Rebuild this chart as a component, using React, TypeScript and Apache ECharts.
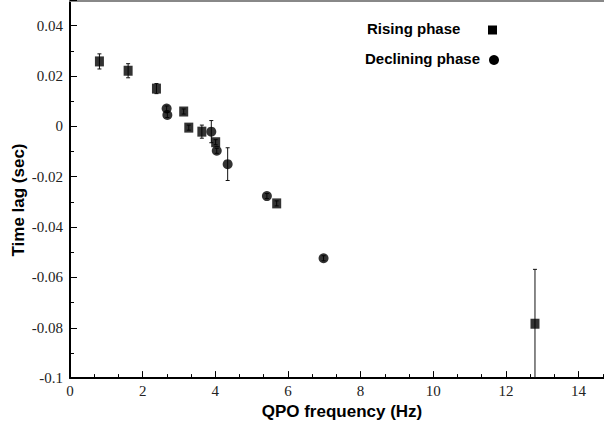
import React, { useEffect, useRef } from "react";
import * as echarts from "echarts";

// Rising phase (squares): QPO frequency (Hz), time lag (s), error (s)
const risingX = [0.81, 1.6, 2.38, 3.13, 3.27, 3.63, 4.01, 5.69, 12.8];
const risingY = [0.0258, 0.0221, 0.015, 0.0059, -0.0005, -0.0021, -0.0063, -0.0306, -0.0784];
const risingErr = [0.003, 0.0028, 0.002, 0.001, 0.001, 0.0026, 0.001, 0.001, 0.0216];

// Declining phase (circles)
const declX = [2.66, 2.68, 3.89, 4.04, 4.34, 5.42, 6.98];
const declY = [0.0071, 0.0045, -0.0021, -0.0097, -0.015, -0.0277, -0.0524];
const declErr = [0.001, 0.001, 0.0044, 0.001, 0.0065, 0.001, 0.001];

const xTitle = "QPO frequency (Hz)";
const yTitle = "Time lag (sec)";
const legendNames = ["Rising phase", "Declining phase"];

const boldFont = "'Liberation Sans', Arial, sans-serif";
const serifFont = "'Liberation Serif', 'Times New Roman', serif";

function errRender(params: any, api: any) {
  const x = api.value(0);
  const y = api.value(1);
  const e = api.value(2);
  const top = api.coord([x, y + e]);
  const bot = api.coord([x, y - e]);
  const cap = 2;
  const style = { stroke: "#111", lineWidth: 1 };
  return {
    type: "group",
    children: [
      { type: "line", shape: { x1: top[0], y1: top[1], x2: bot[0], y2: bot[1] }, style },
      { type: "line", shape: { x1: top[0] - cap, y1: top[1], x2: top[0] + cap, y2: top[1] }, style },
      { type: "line", shape: { x1: bot[0] - cap, y1: bot[1], x2: bot[0] + cap, y2: bot[1] }, style },
    ],
  };
}

export default function App() {
  const ref = useRef<HTMLDivElement>(null);
  useEffect(() => {
    if (!ref.current) return;
    const chart = echarts.init(ref.current, undefined, { renderer: "svg" });
    const rising = risingX.map((x, i) => [x, risingY[i], risingErr[i]]);
    const decl = declX.map((x, i) => [x, declY[i], declErr[i]]);
    chart.setOption({
      animation: false,
      backgroundColor: "#fff",
      grid: { left: 70, right: 0, top: 0.5, bottom: 42 },
      xAxis: [
        {
          type: "value",
          min: 0,
          max: 14.7,
          interval: 2,
          position: "bottom",
          name: xTitle,
          nameLocation: "middle",
          nameGap: 12,
          nameTextStyle: {
            fontFamily: boldFont,
            fontWeight: "bold",
            fontSize: 17,
            color: "#000",
            padding: [0, 0, 0, 10],
          },
          axisLine: { show: true, onZero: false, lineStyle: { color: "#000", width: 2 } },
          axisTick: { show: true, inside: true, length: 7, lineStyle: { color: "#000", width: 1 } },
          minorTick: { show: true, splitNumber: 3, length: 4, lineStyle: { color: "#000", width: 1 } },
          axisLabel: {
            showMaxLabel: false,
            fontFamily: serifFont,
            fontSize: 15,
            color: "#222",
            margin: 5,
          },
          splitLine: { show: false },
        },
        {
          type: "value",
          min: 0,
          max: 14.7,
          position: "top",
          axisLine: { show: true, onZero: false, lineStyle: { color: "#888", width: 2 } },
          axisTick: { show: false },
          axisLabel: { show: false },
          splitLine: { show: false },
        },
      ],
      yAxis: {
        type: "value",
        min: -0.1,
        max: 0.05,
        interval: 0.02,
        axisLine: { show: true, onZero: false, lineStyle: { color: "#000", width: 2 } },
        axisTick: { show: true, inside: true, length: 7, lineStyle: { color: "#000", width: 1 } },
        minorTick: { show: true, splitNumber: 2, length: 4, lineStyle: { color: "#000", width: 1 } },
        axisLabel: {
          showMaxLabel: false,
          fontFamily: serifFont,
          fontSize: 15,
          color: "#222",
          margin: 7,
        },
        splitLine: { show: false },
      },
      graphic: [
        {
          type: "text",
          x: 18,
          y: 200,
          rotation: Math.PI / 2,
          style: {
            text: yTitle,
            fontFamily: boldFont,
            fontWeight: "bold",
            fontSize: 17,
            fill: "#000",
            align: "center",
            verticalAlign: "middle",
          },
        },
        {
          type: "text",
          left: 367,
          top: 21,
          style: { text: legendNames[0], fontFamily: boldFont, fontWeight: "bold", fontSize: 15, fill: "#000" },
        },
        {
          type: "rect",
          shape: { x: 488, y: 25.5, width: 9, height: 9 },
          style: { fill: "#000" },
        },
        {
          type: "text",
          left: 365,
          top: 51,
          style: { text: legendNames[1], fontFamily: boldFont, fontWeight: "bold", fontSize: 15, fill: "#000" },
        },
        {
          type: "circle",
          shape: { cx: 494, cy: 60, r: 5 },
          style: { fill: "#000" },
        },
      ],
      series: [
        {
          type: "custom",
          name: "rising-err",
          renderItem: errRender,
          data: rising,
          clip: true,
          z: 1,
        },
        {
          type: "custom",
          name: "decl-err",
          renderItem: errRender,
          data: decl,
          clip: true,
          z: 1,
        },
        {
          type: "scatter",
          name: legendNames[0],
          data: rising.map((d) => [d[0], d[1]]),
          symbol: "rect",
          symbolSize: [9, 10],
          itemStyle: { color: "#000" },
          z: 3,
        },
        {
          type: "scatter",
          name: legendNames[1],
          data: decl.map((d) => [d[0], d[1]]),
          symbol: "circle",
          symbolSize: 10,
          itemStyle: { color: "#000" },
          z: 3,
        },
      ],
    });
    return () => chart.dispose();
  }, []);
  return (
    <div
      ref={ref}
      style={{ position: "fixed", left: 0, top: 0, width: 604, height: 425, background: "#fff" }}
    />
  );
}
